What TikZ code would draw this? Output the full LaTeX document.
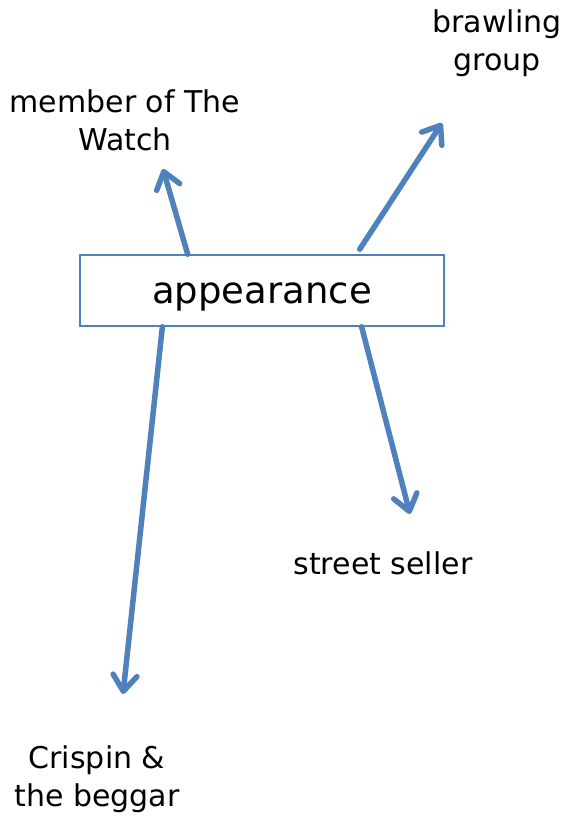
\documentclass[tikz,border=0pt]{standalone}
\usepackage{fontspec}
\setmainfont{DejaVu Sans}
\usetikzlibrary{arrows.meta, positioning}
\definecolor{linkblue}{HTML}{4F81BD}

\begin{document}
\begin{tikzpicture}[x=1pt, y=-1pt,
  link/.style={draw=linkblue, line width=5.5pt, line cap=round,
    -{Straight Barb[round, length=16pt, width=24pt]}},
  lbl/.style={align=center, font=\fontsize{30}{38}\selectfont}]
\useasboundingbox (0,0) rectangle (561,820);

% Centre box
\node[draw=linkblue, line width=1.5pt, minimum width=364pt, minimum height=71pt,
  text height=25pt, text depth=0pt,
  font=\fontsize{37}{44}\selectfont] (app) at (262,290.5) {appearance};

% Labels
\node[lbl] (watch) at (125,120) {member of The\\Watch};
\node[lbl] (brawl) at (497,43) {brawling\\group};
\node[lbl] (seller) at (383,563) {street seller};
\node[lbl] (crispin) at (97,779) {Crispin \&\\the beggar};

% Arrow ends
\coordinate (watchtip) at (163,169);
\coordinate (brawltip) at (442,123);
\coordinate (sellertip) at (410,514);
\coordinate (crispintip) at (123,694);

% Arrows
\draw[link] (app.154) -- (watchtip);
\draw[link, shorten <=6pt] (app.21.5) -- (brawltip);
\draw[link] (app.200) -- (crispintip);
\draw[link] (app.-20.7) -- (sellertip);
\end{tikzpicture}
\end{document}
